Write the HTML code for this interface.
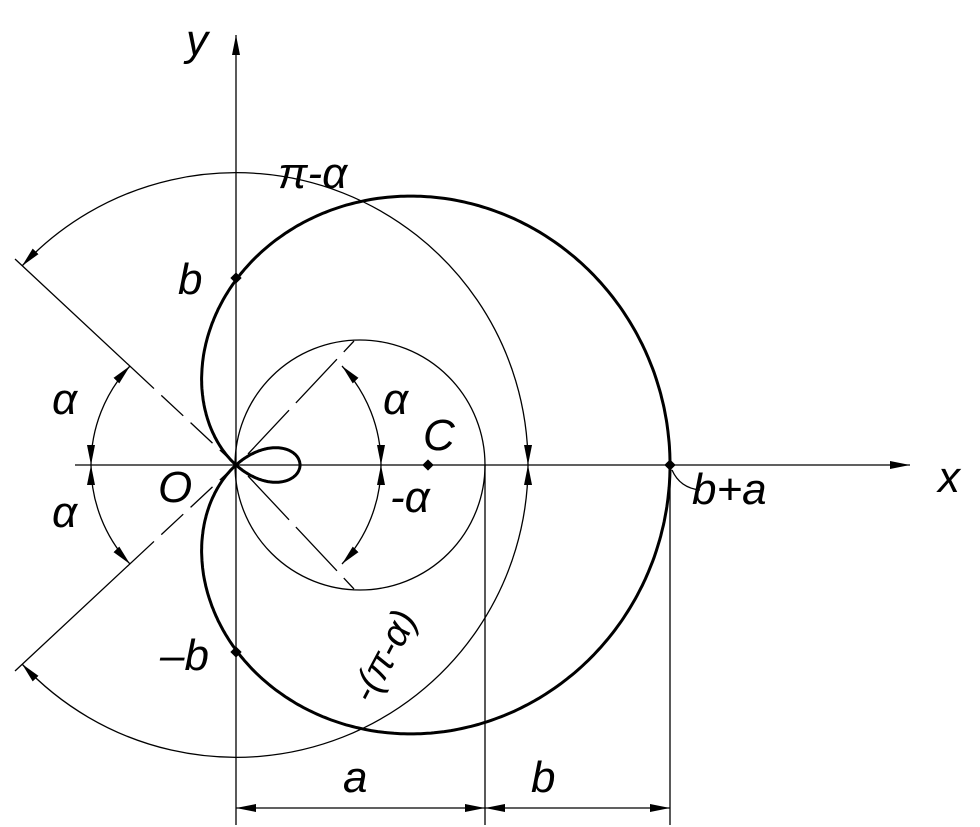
<!DOCTYPE html>
<html><head><meta charset="utf-8"><style>
html,body{margin:0;padding:0;background:#fff;}
svg{display:block;}
text{font-family:"Liberation Sans",sans-serif;font-style:italic;font-size:44px;fill:#000;}
</style></head><body>
<svg id="s" width="980" height="827" viewBox="0 0 980 827" xmlns="http://www.w3.org/2000/svg">
<defs>
<marker id="ar" viewBox="0 0 20 8" refX="20" refY="4" markerWidth="20" markerHeight="8" markerUnits="userSpaceOnUse" orient="auto-start-reverse"><path d="M0,0 L20,4 L0,8 Z" fill="#000"/></marker>
</defs>
<g stroke="#000" fill="none" stroke-width="1.3">
<line x1="75" y1="465" x2="910" y2="465" marker-end="url(#ar)"/>
<line x1="236" y1="825" x2="236" y2="35" marker-end="url(#ar)"/>
<line x1="485" y1="465" x2="485" y2="825"/>
<line x1="670" y1="465" x2="670" y2="825"/>
<line x1="236" y1="808" x2="485" y2="808" marker-start="url(#ar)" marker-end="url(#ar)"/>
<line x1="485" y1="808" x2="670" y2="808" marker-start="url(#ar)" marker-end="url(#ar)"/>
<circle cx="360" cy="465" r="125"/>
<line x1="15" y1="259" x2="236" y2="465" stroke-dasharray="190 10 30 10 30 10 100"/>
<line x1="15" y1="671" x2="236" y2="465" stroke-dasharray="190 10 30 10 30 10 100"/>
<line x1="248" y1="454" x2="354" y2="341" stroke-dasharray="60 10"/>
<line x1="248" y1="476" x2="354" y2="589" stroke-dasharray="60 10"/>
<path d="M22,266 A292,292 0 0 1 528,465" marker-start="url(#ar)" marker-end="url(#ar)"/>
<path d="M528,465 A292,292 0 0 1 22,664" marker-start="url(#ar)" marker-end="url(#ar)"/>
<path d="M130,366 A145,145 0 0 0 91,465" marker-start="url(#ar)" marker-end="url(#ar)"/>
<path d="M91,465 A145,145 0 0 0 130,564" marker-start="url(#ar)" marker-end="url(#ar)"/>
<path d="M342,366 A145,145 0 0 1 381,465" marker-start="url(#ar)" marker-end="url(#ar)"/>
<path d="M381,465 A145,145 0 0 1 342,564" marker-start="url(#ar)" marker-end="url(#ar)"/>
<path id="lim" stroke-width="3"/>
</g>
<g fill="#000">
<rect x="232" y="274" width="8" height="8" transform="rotate(45 236 278)"/>
<rect x="232" y="648" width="8" height="8" transform="rotate(45 236 652)"/>
<rect x="666" y="461" width="8" height="8" transform="rotate(45 670 465)"/>
<rect x="424" y="461" width="8" height="8" transform="rotate(45 428 465)"/>
</g>
<path d="M672,470 Q680,488 700,490" stroke="#000" fill="none" stroke-width="1.3"/>
<text x="186" y="55">y</text>
<text x="938" y="492">x</text>
<text x="278" y="188">π-α</text>
<text x="178" y="294">b</text>
<text x="52" y="414">α</text>
<text x="52" y="527">α</text>
<text x="383" y="414">α</text>
<text x="423" y="450">C</text>
<text x="158" y="502">O</text>
<text x="390" y="512">-α</text>
<text x="692" y="504">b+a</text>
<text x="160" y="670">–b</text>
<text x="0" y="0" transform="translate(372,705) rotate(-62)" style="font-size:38px">-(π-α)</text>
<text x="343" y="792">a</text>
<text x="531" y="792">b</text>
</svg>
<script>
var ox=236,oy=465,a=249,b=185,d="";
for(var i=0;i<=720;i++){var t=i/720*2*Math.PI;var r=b+a*Math.cos(t);
var x=ox+r*Math.cos(t),y=oy-r*Math.sin(t);d+=(i?"L":"M")+x.toFixed(1)+","+y.toFixed(1);}
document.getElementById("lim").setAttribute("d",d+"Z");
</script>
</body></html>
